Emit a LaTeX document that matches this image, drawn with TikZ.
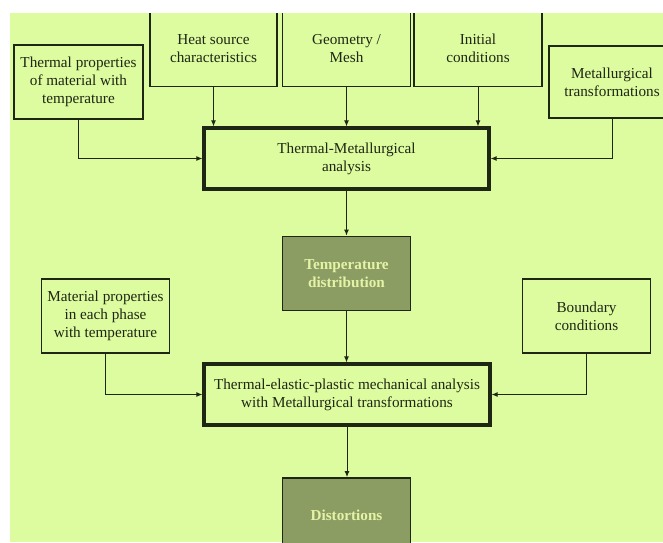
\documentclass[tikz,border=0pt]{standalone}
\usepackage{fontspec}
\setmainfont{Liberation Serif}
\usetikzlibrary{arrows.meta}
\definecolor{bggreen}{HTML}{DDFB9F}
\definecolor{darkfill}{HTML}{8B9D63}
\definecolor{lineclr}{HTML}{1E2614}
\definecolor{lighttext}{HTML}{E4F3A6}
\tikzset{
  box/.style={draw=lineclr, line width=1.7pt, fill=bggreen, align=center,
    inner sep=2pt, text=lineclr, font=\fontsize{15.2}{18}\selectfont},
  bigbox/.style={box, line width=3.2pt},
  resbox/.style={box, fill=darkfill, draw=lineclr, line width=1.8pt,
    text=lighttext, font=\fontsize{15.2}{18}\selectfont\bfseries},
  conn/.style={draw=lineclr, line width=1pt, -{Latex[length=6pt,width=5pt]}}
}
\begin{document}
\begin{tikzpicture}[x=1pt,y=-1pt]
\fill[white] (0,0) rectangle (663,542);
\fill[bggreen] (10,13) rectangle (663,542);
\useasboundingbox (0,0) rectangle (663,542);
\begin{scope}
\clip (10,13) rectangle (663,542);
\node[box, minimum width=129pt, minimum height=74pt] (tp) at (78.5,82) {Thermal properties\\of material with\\temperature};
\node[box, minimum width=127pt, minimum height=76pt] (hs) at (213.5,48.5) {Heat source\\characteristics};
\node[box, minimum width=128pt, minimum height=76pt] (geo) at (346.5,48.5) {Geometry /\\Mesh};
\node[box, minimum width=128pt, minimum height=76pt] (ic) at (478,48.5) {Initial\\conditions};
\node[box, minimum width=126pt, minimum height=72pt] (mt) at (612,82) {Metallurgical\\transformations};
\node[bigbox, minimum width=285pt, minimum height=61pt] (tma) at (346.5,158.5) {Thermal-Metallurgical\\analysis};
\node[resbox, minimum width=128pt, minimum height=74pt] (td) at (346.5,273.5) {Temperature\\distribution};
\node[box, minimum width=128pt, minimum height=74pt] (mp) at (105.5,316) {Material properties\\in each phase\\with temperature};
\node[box, minimum width=128pt, minimum height=74pt] (bc) at (586.5,316) {Boundary\\conditions};
\node[bigbox, minimum width=286pt, minimum height=61pt] (mech) at (347,394.5) {Thermal-elastic-plastic mechanical analysis\\with Metallurgical transformations};
\node[resbox, minimum width=128pt, minimum height=74pt] (dist) at (346.5,515) {Distortions};
\draw[conn] (hs.south) -- (hs.south |- tma.north);
\draw[conn] (geo.south) -- (geo.south |- tma.north);
\draw[conn] (ic.south) -- (ic.south |- tma.north);
\draw[conn] (tp.south) |- (tma.west);
\draw[conn] (mt.south) |- (tma.east);
\draw[conn] (tma.south) -- (td.north);
\draw[conn] (td.south) -- (td.south |- mech.north);
\draw[conn] (mp.south) |- (mech.west);
\draw[conn] (bc.south) |- (mech.east);
\draw[conn] (mech.south) -- (mech.south |- dist.north);
\end{scope}
\end{tikzpicture}
\end{document}
